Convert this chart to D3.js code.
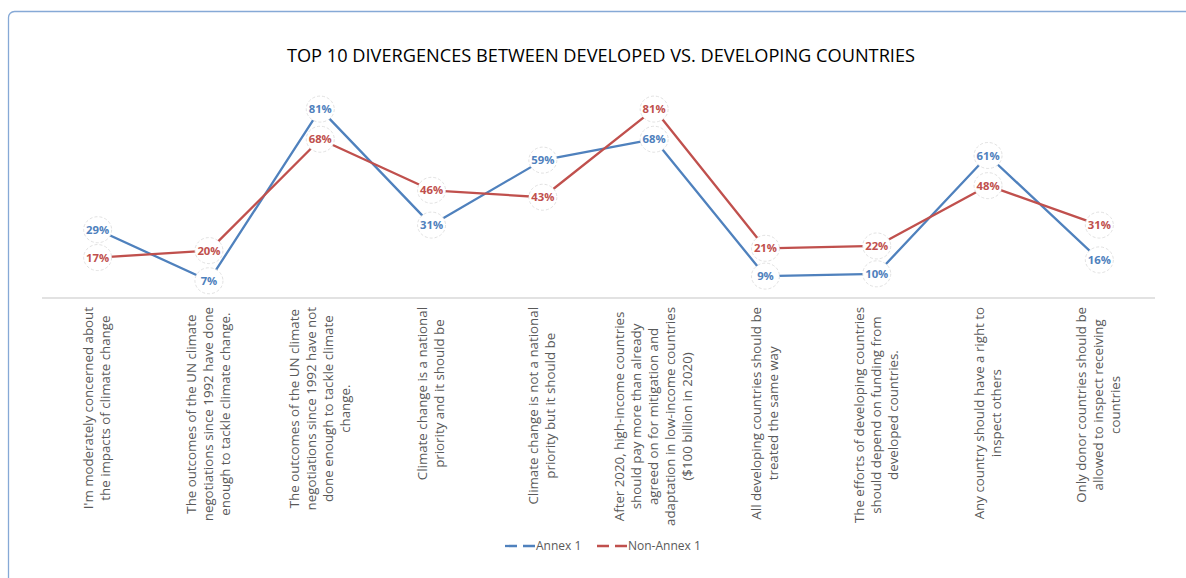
<!DOCTYPE html>
<html>
<head>
<meta charset="utf-8">
<script src="https://cdn.jsdelivr.net/npm/d3@7"></script>
<style>
  body { margin: 0; background: #fff; }
  svg { display: block; }
</style>
</head>
<body>
<svg id="chart" width="1186" height="578"></svg>
<script>
// categories (line breaks as in the original)
var categories = [
  ["I'm moderately concerned about", "the impacts of climate change"],
  ["The outcomes of the UN climate", "negotiations since 1992 have done", "enough to tackle climate change."],
  ["The outcomes of the UN climate", "negotiations since 1992 have not", "done enough to tackle climate", "change."],
  ["Climate change is a national", "priority and it should be"],
  ["Climate change is not a national", "priority but it should be"],
  ["After 2020, high-income countries", "should pay more than already", "agreed on for mitigation and", "adaptation in low-income countries", "($100 billion in 2020)"],
  ["All developing countries should be", "treated the same way"],
  ["The efforts of developing countries", "should depend on funding from", "developed countries."],
  ["Any country should have a right to", "inspect others"],
  ["Only donor countries should be", "allowed to inspect receiving", "countries"]
];
var annex1 = [29, 7, 81, 31, 59, 68, 9, 10, 61, 16];
var nonAnnex1 = [17, 20, 68, 46, 43, 81, 21, 22, 48, 31];
var seriesNames = ["Annex 1", "Non-Annex 1"];
var title = "TOP 10 DIVERGENCES BETWEEN DEVELOPED VS. DEVELOPING COUNTRIES";

var colors = ["#4f81bd", "#c0504d"];
var font = "'Open Sans', sans-serif";

var svg = d3.select("#chart");
var margin = {top: 69, left: 42, right: 31, axisY: 297};
var width = 1186 - margin.left - margin.right;

// frame
svg.append("rect")
  .attr("x", 8.5).attr("y", 11.5)
  .attr("width", 1200).attr("height", 600)
  .attr("rx", 6)
  .attr("fill", "#fff")
  .attr("stroke", "#86a9d6")
  .attr("stroke-width", 1.3);

svg.append("text")
  .attr("x", 601)
  .attr("y", 62)
  .attr("text-anchor", "middle")
  .style("font", "18.2px " + font)
  .style("fill", "#000")
  .text(title);

var x = d3.scaleBand()
  .domain(d3.range(categories.length))
  .range([margin.left, margin.left + width]);

var y = d3.scaleLinear()
  .domain([0, 100])
  .range([margin.axisY, margin.axisY - 232]);

// category axis
svg.append("line")
  .attr("x1", margin.left).attr("x2", margin.left + width)
  .attr("y1", margin.axisY + 1).attr("y2", margin.axisY + 1)
  .attr("stroke", "#d9d9d9")
  .attr("stroke-width", 1.5);

var lineH = 17;
var labelTop = 307;
var catG = svg.append("g");
categories.forEach(function (lines, i) {
  var g = catG.append("g");
  var texts = [];
  lines.forEach(function (s, j) {
    var cx = x(i) + x.bandwidth() / 2 + (j - (lines.length - 1) / 2) * lineH + 4;
    texts.push(g.append("text")
      .attr("text-anchor", "middle")
      .attr("data-cx", cx)
      .style("font", "13.3px " + font)
      .style("fill", "#595959")
      .text(s));
  });
  var maxLen = d3.max(texts, function (t) { return t.node().getComputedTextLength(); });
  var cy = labelTop + maxLen / 2;
  texts.forEach(function (t) {
    var cx = +t.attr("data-cx");
    t.attr("transform", "translate(" + cx + "," + cy + ") rotate(-90)");
  });
});

var line = d3.line()
  .x(function (d, i) { return x(i) + x.bandwidth() / 2; })
  .y(function (d) { return y(d); });

var series = [annex1, nonAnnex1];
series.forEach(function (vals, s) {
  svg.append("path")
    .datum(vals)
    .attr("fill", "none")
    .attr("stroke", colors[s])
    .attr("stroke-width", 2.3)
    .attr("stroke-linejoin", "round")
    .attr("d", line);
});

// data labels
series.forEach(function (vals, s) {
  var lab = svg.selectAll(".lab" + s)
    .data(vals)
    .enter().append("g")
    .attr("transform", function (d, i) {
      return "translate(" + (x(i) + x.bandwidth() / 2) + "," + y(d) + ")";
    });
  lab.append("ellipse")
    .attr("rx", 14).attr("ry", 13)
    .attr("fill", "#fff")
    .attr("stroke", "#d9d9d9")
    .attr("stroke-width", 0.8)
    .attr("stroke-dasharray", "3,2");
  lab.append("text")
    .attr("text-anchor", "middle")
    .attr("dy", "0.36em")
    .style("font", "bold 11.3px " + font)
    .style("fill", colors[s])
    .text(function (d) { return d + "%"; });
});

// legend
var legend = svg.append("g");
var lx = [505, 597];
seriesNames.forEach(function (name, s) {
  var g = legend.append("g").attr("transform", "translate(" + lx[s] + ",546)");
  g.append("line")
    .attr("x1", 0).attr("x2", 30)
    .attr("stroke", colors[s])
    .attr("stroke-width", 2.3)
    .attr("stroke-dasharray", "12,6");
  g.append("text")
    .attr("x", 31)
    .attr("dy", "0.35em")
    .style("font", "12px " + font)
    .style("fill", "#595959")
    .text(name);
});
</script>
</body>
</html>
